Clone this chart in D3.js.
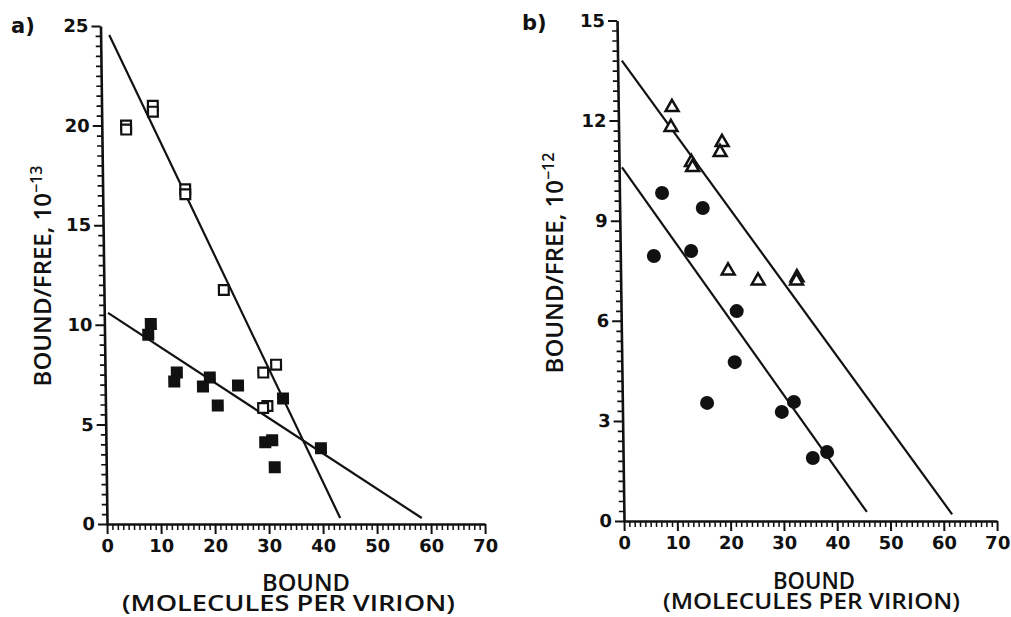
<!DOCTYPE html>
<html>
<head>
<meta charset="utf-8">
<script src="https://cdn.jsdelivr.net/npm/d3@7"></script>
<style>
  html, body { margin: 0; padding: 0; background: #fff; }
  svg { display: block; }
  text { font-family: "Open Sans", "DejaVu Sans", sans-serif; fill: #111; }
</style>
</head>
<body>
<svg id="chart" width="1011" height="617"></svg>
<script>
// ---------- DATA ----------
// Panel a: open squares
const aOpenX = [4.5, 4.5, 9.5, 9.5, 15.3, 15.3, 22.2, 31.7, 29.3, 30.0, 29.2];
const aOpenY = [20.0, 19.8, 21.0, 20.7, 16.8, 16.55, 11.75, 8.0, 7.6, 5.92, 5.82];
// Panel a: filled squares
const aFillX = [8.6, 8.1, 13.3, 12.8, 19.4, 18.1, 24.6, 20.8, 32.9, 29.5, 30.8, 31.2, 39.8];
const aFillY = [10.04, 9.5, 7.6, 7.15, 7.35, 6.9, 6.95, 5.95, 6.3, 4.1, 4.2, 2.85, 3.8];
// Panel a: fitted lines [x0, y0, x1, y1]
const aLineSteep = [1.6, 24.55, 43.2, 0.3];
const aLineShallow = [0.7, 10.6, 58.3, 0.3];
// Panel b: open triangles
const bTriX = [10.1, 9.85, 13.6, 13.8, 19.4, 19.0, 20.2, 25.8, 33.1, 33.0];
const bTriY = [12.4, 11.8, 10.75, 10.6, 11.35, 11.05, 7.5, 7.2, 7.3, 7.2];
// Panel b: filled circles
const bCircX = [8.0, 15.6, 6.3, 13.3, 21.7, 21.2, 15.9, 29.9, 32.2, 35.6, 38.3];
const bCircY = [9.83, 9.38, 7.94, 8.09, 6.29, 4.76, 3.54, 3.27, 3.57, 1.89, 2.07];
// Panel b: fitted lines
const bLineUpper = [0.8, 13.8, 61.6, 0.2];
const bLineLower = [0.55, 10.6, 45.6, 0.27];
// Ticks
const xTicks = [0, 10, 20, 30, 40, 50, 60, 70];
const aYTicks = [0, 5, 10, 15, 20, 25];
const bYTicks = [0, 3, 6, 9, 12, 15];
const xTitle1 = "BOUND";
const xTitle2 = "(MOLECULES PER VIRION)";
const yTitleMain = "BOUND/FREE,  10";
const aYExp = "\u221213";
const bYExp = "\u221212";

// ---------- DRAW ----------
const svg = d3.select("#chart");

function panel(opt) {
  const g = svg.append("g")
    .attr("transform", `translate(${opt.ox},${opt.oy}) skewX(${opt.skew})`);
  const x = d3.scaleLinear().domain([0, 70]).range([0, opt.w]);
  const y = d3.scaleLinear().domain([0, opt.ymax]).range([0, -opt.h]);

  // minor ticks
  const xMinor = d3.range(0, 70.001, 1).filter(v => v % 10 !== 0);
  g.append("g").call(d3.axisBottom(x).tickValues(xMinor).tickSize(6).tickFormat(""))
    .call(s => s.select(".domain").remove())
    .selectAll("line").attr("stroke", "#111").attr("stroke-width", 1.5);
  const yMinor = d3.range(0, opt.ymax + 0.001, opt.ymin).map(v => +v.toFixed(3))
    .filter(v => !opt.yTicks.some(t => Math.abs(t - v) < 1e-6));
  g.append("g").call(d3.axisLeft(y).tickValues(yMinor).tickSize(5).tickFormat(""))
    .call(s => s.select(".domain").remove())
    .selectAll("line").attr("stroke", "#111").attr("stroke-width", 1.7);

  // major axes
  const xa = g.append("g").call(d3.axisBottom(x).tickValues(xTicks).tickSize(10).tickPadding(5).tickSizeOuter(0));
  const ya = g.append("g").call(d3.axisLeft(y).tickValues(opt.yTicks).tickSize(9).tickPadding(3).tickSizeOuter(0));
  [xa, ya].forEach(a => {
    a.attr("font-size", 18).attr("font-family", null);
    a.select(".domain").attr("stroke", "#111").attr("stroke-width", 2.6);
    a.selectAll(".tick line").attr("stroke", "#111").attr("stroke-width", 2);
    a.selectAll(".tick text").attr("font-size", 18)
      .style("font-weight", "700").style("font-family", '"DejaVu Sans", sans-serif').attr("fill", "#111");
  });

  // fit lines
  opt.lines.forEach(l => {
    g.append("line")
      .attr("x1", x(l[0])).attr("y1", y(l[1]))
      .attr("x2", x(l[2])).attr("y2", y(l[3]))
      .attr("stroke", "#111").attr("stroke-width", 2.2);
  });

  return { g, x, y };
}

// Panel a
const A = panel({ ox: 107, oy: 524, w: 378, h: 498, ymax: 25, ymin: 0.5, skew: 0.75,
  yTicks: aYTicks, lines: [aLineSteep, aLineShallow] });
const aFill = aFillX.map((v, i) => ({ x: v, y: aFillY[i] }));
const aOpen = aOpenX.map((v, i) => ({ x: v, y: aOpenY[i] }));
const sq = 12;
A.g.selectAll("rect.f").data(aFill).enter().append("rect")
  .attr("x", d => A.x(d.x) - sq / 2).attr("y", d => A.y(d.y) - sq / 2)
  .attr("width", sq).attr("height", sq).attr("fill", "#111");
A.g.selectAll("rect.o").data(aOpen).enter().append("rect")
  .attr("x", d => A.x(d.x) - (sq - 2.2) / 2).attr("y", d => A.y(d.y) - (sq - 2.2) / 2)
  .attr("width", sq - 2.2).attr("height", sq - 2.2)
  .attr("fill", "#fff").attr("stroke", "#111").attr("stroke-width", 2.2);

// Panel b
const B = panel({ ox: 624, oy: 521, w: 373, h: 500.5, ymax: 15, ymin: 0.3, skew: 0.8,
  yTicks: bYTicks, lines: [bLineUpper, bLineLower] });
const bCirc = bCircX.map((v, i) => ({ x: v, y: bCircY[i] }));
const bTri = bTriX.map((v, i) => ({ x: v, y: bTriY[i] }));
B.g.selectAll("circle").data(bCirc).enter().append("circle")
  .attr("cx", d => B.x(d.x)).attr("cy", d => B.y(d.y)).attr("r", 7).attr("fill", "#111");
const tri = d3.symbol().type(d3.symbolTriangle).size(72);
B.g.selectAll("path.t").data(bTri).enter().append("path")
  .attr("transform", d => `translate(${B.x(d.x)},${B.y(d.y)})`)
  .attr("d", tri).attr("fill", "#fff").attr("stroke", "#111")
  .attr("stroke-width", 2.5).attr("stroke-linejoin", "miter");

// ---------- TEXT ----------
svg.append("text").attr("x", 11).attr("y", 33).attr("font-size", 21)
  .style("font-weight", "700").style("font-family", '"DejaVu Sans", sans-serif').text("a)");
svg.append("text").attr("x", 522).attr("y", 30).attr("font-size", 21)
  .style("font-weight", "700").style("font-family", '"DejaVu Sans", sans-serif').text("b)");

function xTitles(cx1, cx2, yb1, yb2, w1, w2) {
  svg.append("text").attr("x", cx1).attr("y", yb1).attr("text-anchor", "middle")
    .attr("font-size", 23).style("font-weight", "600")
    .attr("textLength", w1).attr("lengthAdjust", "spacingAndGlyphs").text(xTitle1);
  svg.append("text").attr("x", cx2).attr("y", yb2).attr("text-anchor", "middle")
    .attr("font-size", 22).style("font-weight", "600")
    .attr("textLength", w2).attr("lengthAdjust", "spacingAndGlyphs").text(xTitle2);
}
xTitles(306, 288.5, 591, 611, 88, 333);
xTitles(814, 811.5, 589, 609, 82, 297);

function yTitle(bx, cy, exp) {
  const t = svg.append("text")
    .attr("transform", `translate(${bx},${cy}) rotate(-90)`)
    .attr("text-anchor", "middle").attr("font-size", 24).style("font-weight", "600");
  t.append("tspan").text(yTitleMain);
  t.append("tspan").attr("dy", -9).attr("font-size", 16).text(exp);
}
yTitle(51, 276, aYExp);
yTitle(563, 263, bYExp);
</script>
</body>
</html>
